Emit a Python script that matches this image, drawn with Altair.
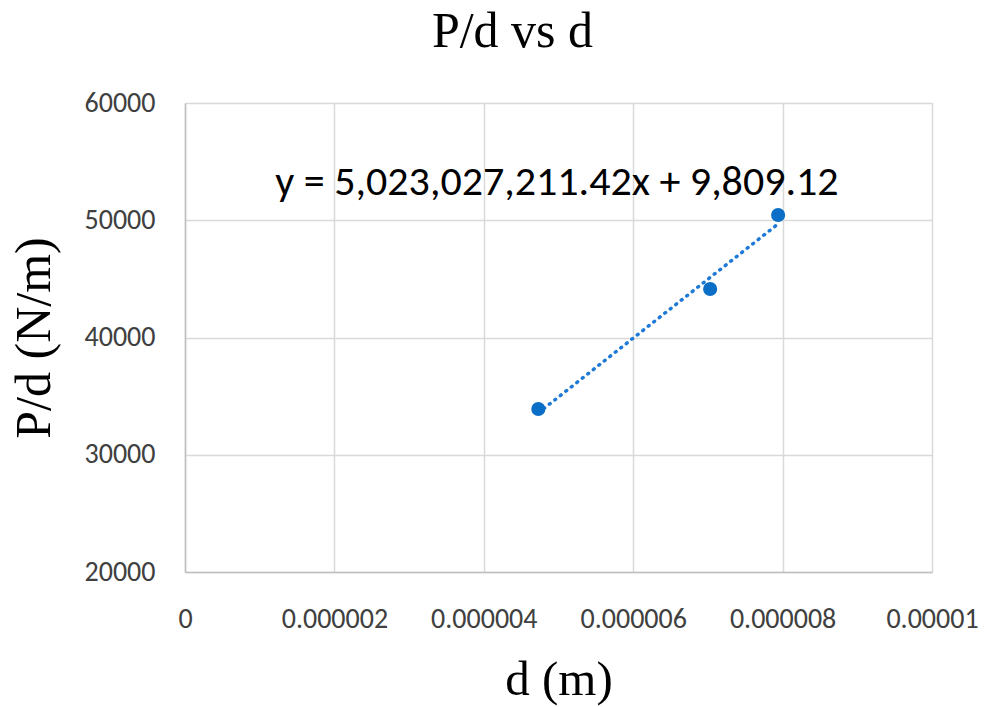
import altair as alt
import pandas as pd

# data
d_values = [4.73e-6, 7.03e-6, 7.94e-6]
pd_values = [33900, 44140, 50450]

slope = 5023027211.42
intercept = 9809.12
equation = "y = 5,023,027,211.42x + 9,809.12"

x_ticks = [0, 2e-6, 4e-6, 6e-6, 8e-6, 1e-5]
y_ticks = [20000, 30000, 40000, 50000, 60000]

pts = pd.DataFrame({"d": d_values, "pd": pd_values})
trend = pd.DataFrame({"d": [min(d_values), max(d_values)]})
trend["pd"] = slope * trend["d"] + intercept
ann = pd.DataFrame({"d": [4.98e-6], "pd": [53260], "t": [equation]})

SANS = "Carlito, 'Liberation Sans Narrow', 'Open Sans', sans-serif"
SERIF = "'Liberation Serif', 'Times New Roman', serif"

xscale = alt.Scale(domain=[0, 1e-5], nice=False, zero=False)
yscale = alt.Scale(domain=[20000, 60000], nice=False, zero=False)

xaxis = alt.Axis(
    title="d (m)", values=x_ticks, labelExpr="'' + datum.value",
    labelFont=SANS, labelFontSize=28, labelColor="#404040", labelPadding=33,
    titleFont=SERIF, titleFontSize=49, titleFontWeight="normal", titleColor="#000000",
    titlePadding=22, grid=True, gridColor="#d9d9d9", gridWidth=1.5,
    domainColor="#bfbfbf", domainWidth=1.5, ticks=False, labelFlush=False,
)
yaxis = alt.Axis(
    title="P/d (N/m)", values=y_ticks, format="d",
    labelFont=SANS, labelFontSize=28, labelColor="#404040", labelPadding=30,
    titleFont=SERIF, titleFontSize=50, titleFontWeight="normal", titleColor="#000000",
    titlePadding=25, grid=True, gridColor="#d9d9d9", gridWidth=1.5,
    domainColor="#bfbfbf", domainWidth=1.5, ticks=False,
)

line = alt.Chart(trend).mark_line(
    color="#1f7ad6", strokeWidth=3.5, strokeDash=[1, 6], strokeCap="round"
).encode(
    x=alt.X("d:Q", scale=xscale, axis=xaxis),
    y=alt.Y("pd:Q", scale=yscale, axis=yaxis),
)

points = alt.Chart(pts).mark_circle(size=200, opacity=1, color="#0b6fc7").encode(
    x=alt.X("d:Q", scale=xscale),
    y=alt.Y("pd:Q", scale=yscale),
)

text = alt.Chart(ann).mark_text(
    font=SANS, fontSize=42, color="#000000", align="center", baseline="middle"
).encode(
    x=alt.X("d:Q", scale=xscale),
    y=alt.Y("pd:Q", scale=yscale),
    text="t:N",
)

chart = alt.layer(line, points, text).properties(
    width=747,
    height=469,
    autosize=alt.AutoSizeParams(type="none"),
    padding={"left": 177, "top": 95, "right": 50, "bottom": 135},
    title=alt.TitleParams(
        "P/d vs d", font=SERIF, fontSize=50, fontWeight="normal", color="#000000",
        anchor="middle", dx=-46, offset=32,
    ),
).configure_view(stroke=None).configure(background="white")

chart.save("out.html", embed_options={"renderer": "svg", "actions": False})
